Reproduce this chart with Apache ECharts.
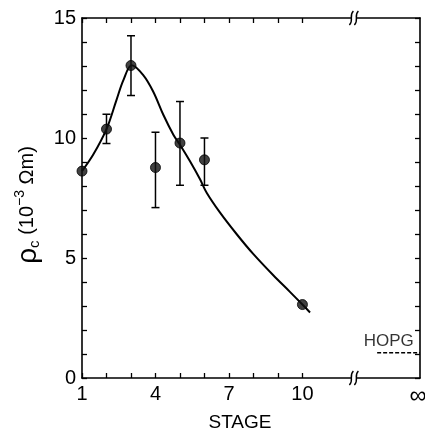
<!DOCTYPE html>
<html>
<head>
<meta charset="utf-8">
<script src="https://cdn.jsdelivr.net/npm/echarts@6/dist/echarts.min.js"></script>
<style>
html,body{margin:0;padding:0;background:#fff;}
#chart{width:425px;height:430px;}
</style>
</head>
<body>
<div id="chart"></div>
<script>
// ---- data ----
const stages = [1, 2, 3, 4, 5, 6, 10];
const rhoC = [8.62, 10.37, 13.02, 8.77, 9.79, 9.09, 3.06];
const errLow = [null, 9.77, 11.77, 7.10, 8.03, 8.03, null];
const errHigh = [null, 10.99, 14.26, 10.24, 11.52, 10.0, null];
// smooth guide curve drawn through the points
const curveX = [1, 1.46, 2, 2.41, 2.69, 3.03, 3.5, 3.91, 4.32, 4.73, 5, 5.41, 5.82, 6.09, 6.63, 7.31, 7.99, 8.81, 9.49, 10, 10.31];
const curveY = [8.62, 9.31, 10.37, 11.59, 12.41, 13.03, 12.62, 11.93, 10.97, 10.14, 9.72, 9.03, 8.28, 7.72, 6.9, 6.0, 5.17, 4.28, 3.59, 3.06, 2.73];
// HOPG reference level (plotted at "infinity")
const hopgLabel = 'HOPG';
const hopgValue = 1.05;
const hopgX = [13.05, 14.8];
// axis settings
const xTickValues = [1, 2, 3, 4, 5, 6, 7, 8, 9, 10];
const xLabelValues = [1, 4, 7, 10];
const X_INF = 14.8;
const X_BREAK = 12.1;
const yLabelValues = [0, 5, 10, 15];

const FONT = 'Liberation Sans';
const chart = echarts.init(document.getElementById('chart'), null, {renderer: 'canvas'});

const pointData = stages.map((s, i) => [s, rhoC[i]]);
const errData = stages.map((s, i) => [s, errLow[i], errHigh[i]]).filter(d => d[1] != null);
const curveData = curveX.map((x, i) => [x, curveY[i]]);

const axisLine = {show: true, onZero: false, lineStyle: {color: '#000', width: 1.6}};
const tickStyle = {show: true, inside: true, length: 5, lineStyle: {color: '#000', width: 1.3}};

const option = {
  backgroundColor: '#fff',
  animation: false,
  grid: {left: 82, right: 5, top: 18, bottom: 52, containLabel: false, outerBoundsMode: 'none'},
  xAxis: [
    {
      type: 'value', min: 1, max: X_INF, interval: 1, position: 'bottom',
      axisLine: axisLine,
      axisTick: Object.assign({}, tickStyle, {customValues: xTickValues}),
      axisLabel: {
        customValues: xLabelValues.concat([X_INF]),
        formatter: v => (Math.abs(v - X_INF) < 1e-6 ? '{inf|∞}' : String(v)),
        color: '#000', fontFamily: FONT, fontSize: 20, margin: 6,
        rich: {inf: {fontSize: 24, fontFamily: FONT, color: '#000', padding: [0, 0, 0, -4]}}
      },
      splitLine: {show: false},
      name: 'STAGE', nameLocation: 'middle', nameGap: 31,
      nameTextStyle: {color: '#000', fontFamily: FONT, fontSize: 19, padding: [0, 22, 0, 0]}
    },
    {
      type: 'value', min: 1, max: X_INF, interval: 1, position: 'top',
      axisLine: axisLine,
      axisTick: Object.assign({}, tickStyle, {customValues: xTickValues}),
      axisLabel: {show: false},
      splitLine: {show: false}
    }
  ],
  yAxis: [
    {
      type: 'value', min: 0, max: 15, interval: 1, position: 'left',
      axisLine: axisLine,
      axisTick: tickStyle,
      axisLabel: {
        formatter: v => (yLabelValues.indexOf(v) >= 0 ? String(v) : ''),
        color: '#000', fontFamily: FONT, fontSize: 20, margin: 6
      },
      splitLine: {show: false},
      name: '{r|ρ}{s|c}{t| (10}{u|−3}{t| Ωm)}',
      nameLocation: 'middle', nameRotate: 90, nameGap: 38,
      nameTextStyle: {
        color: '#000', fontFamily: FONT, padding: [0, 14, 0, 0],
        rich: {
          r: {fontSize: 28, fontFamily: FONT, color: '#000', lineHeight: 30},
          s: {fontSize: 15, fontFamily: FONT, color: '#000', lineHeight: 12, verticalAlign: 'bottom'},
          t: {fontSize: 20, fontFamily: FONT, color: '#000', lineHeight: 30},
          u: {fontSize: 14, fontFamily: FONT, color: '#000', lineHeight: 16, verticalAlign: 'top'}
        }
      }
    },
    {
      type: 'value', min: 0, max: 15, interval: 1, position: 'right',
      axisLine: axisLine,
      axisTick: tickStyle,
      axisLabel: {show: false},
      splitLine: {show: false}
    }
  ],
  series: [
    {
      name: 'curve', type: 'line', data: curveData, smooth: 0.35,
      showSymbol: false, symbol: 'none',
      lineStyle: {color: '#000', width: 2}, z: 2
    },
    {
      name: 'error', type: 'custom', data: errData, z: 3,
      renderItem: function (params, api) {
        const x = api.value(0), lo = api.value(1), hi = api.value(2);
        const pLo = api.coord([x, lo]);
        const pHi = api.coord([x, hi]);
        const w = 4;
        const st = {stroke: '#000', lineWidth: 1.5};
        return {
          type: 'group',
          children: [
            {type: 'line', shape: {x1: pLo[0], y1: pLo[1], x2: pHi[0], y2: pHi[1]}, style: st},
            {type: 'line', shape: {x1: pLo[0] - w, y1: pLo[1], x2: pLo[0] + w, y2: pLo[1]}, style: st},
            {type: 'line', shape: {x1: pHi[0] - w, y1: pHi[1], x2: pHi[0] + w, y2: pHi[1]}, style: st}
          ]
        };
      }
    },
    {
      name: 'rho', type: 'scatter', data: pointData, symbol: 'circle', symbolSize: 10,
      itemStyle: {color: '#111', borderColor: '#000', borderWidth: 1}, z: 4
    },
    {
      name: 'HOPG', type: 'line', data: hopgX.map(x => [x, hopgValue]),
      showSymbol: false, symbol: 'none',
      lineStyle: {color: '#000', width: 1.4, type: [4, 2]}, z: 2
    },
    {
      name: 'HOPG label', type: 'scatter', symbolSize: 0,
      data: [[(hopgX[0] + hopgX[1]) / 2 - 0.4, hopgValue]],
      label: {show: true, position: 'top', distance: 3, formatter: hopgLabel,
        color: '#000', fontFamily: FONT, fontSize: 17},
      z: 2
    }
  ]
};
chart.setOption(option);

// axis break marks on top and bottom axes
function breakMarks() {
  const px = chart.convertToPixel({xAxisIndex: 0}, X_BREAK);
  const yTop = chart.convertToPixel({yAxisIndex: 0}, 15);
  const yBot = chart.convertToPixel({yAxisIndex: 0}, 0);
  const els = [];
  [yTop, yBot].forEach(cy => {
    els.push({type: 'rect', shape: {x: px - 2.5, y: cy - 2, width: 5, height: 4}, style: {fill: '#fff'}, z: 100});
    [-2.5, 2.5].forEach(dx => {
      const cx = px + dx;
      els.push({
        type: 'bezierCurve',
        shape: {x1: cx + 2, y1: cy - 7, cpx1: cx - 3, cpy1: cy - 2, cpx2: cx + 3, cpy2: cy + 2, x2: cx - 2, y2: cy + 7},
        style: {stroke: '#000', lineWidth: 1.4, fill: null}, z: 101
      });
    });
  });
  chart.setOption({graphic: els});
}
breakMarks();
</script>
</body>
</html>
